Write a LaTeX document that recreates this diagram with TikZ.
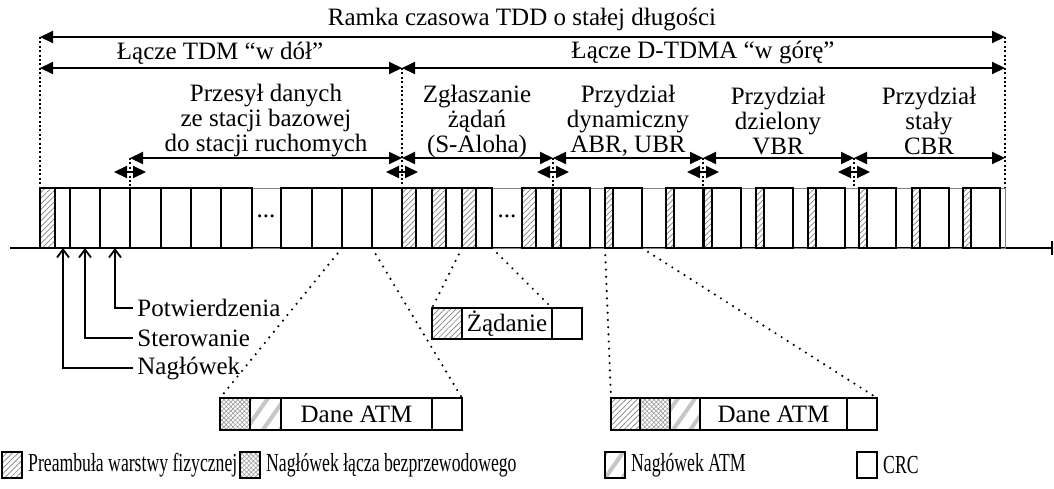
\documentclass[tikz,border=0pt]{standalone}
\usepackage{fontspec}
\setmainfont{Liberation Serif}
\newfontfamily\legfont[FakeStretch=0.68]{Liberation Serif}
\usepackage{tikz}
\usetikzlibrary{arrows.meta}
\usetikzlibrary{patterns.meta}
\usetikzlibrary{positioning}

\tikzset{
  lbl/.style={font=\fontsize{12.5}{12.5}\selectfont,inner sep=2pt,align=center},
  leg/.style={font=\legfont\fontsize{13}{13}\selectfont,inner sep=1.5pt},
  dim/.style={line width=1pt,{Triangle[length=6.5pt,width=6pt]}-{Triangle[length=6.5pt,width=6pt]}},
  guide/.style={line width=0.9pt,dash pattern=on 1pt off 1.2pt},
  zoomline/.style={line width=1.2pt,line cap=round,dash pattern=on 0pt off 3.6pt},
  slot/.style={draw,line width=1.1pt},
  idle/.style={draw=gray,line width=0.5pt},
  tick/.style={line width=0.9pt,-{Straight Barb[length=4pt,width=6pt]}},
  pre/.style={pattern={Lines[angle=45,distance=2pt,line width=0.35pt]},pattern color=gray},
  rhdr/.style={pattern={Hatch[angle=45,distance=1.6pt,line width=0.3pt]},pattern color=gray!80},
  ahdr/.style={pattern={Lines[angle=55,distance=7pt,line width=2pt]},pattern color=gray!45},
  cell/.style={draw,line width=1.1pt,inner sep=0pt,outer sep=0pt,font=\fontsize{12.5}{12.5}\selectfont},
  legbox/.style={draw,line width=0.8pt,minimum width=10pt,minimum height=13pt,inner sep=0pt},
}

\begin{document}
\begin{tikzpicture}[x=0.5pt,y=-0.5pt]
\useasboundingbox (0,0) rectangle (1054,488);

% frame and links
\node[lbl] (ramka) at (522,20) {Ramka czasowa TDD o stałej długości};
\draw[dim] (40,37) -- (1005,37);
\node[lbl] (down) at (220,53) {Łącze TDM “w dół”};
\node[lbl] (up) at (703,53) {Łącze D-TDMA “w górę”};
\draw[dim] (40,68) -- (402,68);
\draw[dim] (402,68) -- (1005,68);

% fields of the frame
\node[lbl] (przesyl) at (266,121) {Przesył danych\\ze stacji bazowej\\do stacji ruchomych};
\node[lbl] (zglasz) at (477,121) {Zgłaszanie\\żądań\\(S-Aloha)};
\node[lbl] (dynam) at (628,121) {Przydział\\dynamiczny\\ABR, UBR};
\node[lbl] (dziel) at (778,121) {Przydział\\dzielony\\VBR};
\node[lbl] (staly) at (929,121) {Przydział\\stały\\CBR};
\foreach \a/\b in {130/402,402/553,553/703,703/854,854/1005}
  \draw[dim] (\a,158) -- (\b,158);
\foreach \x in {130,402,553,703,854}
  \draw[dim] (\x-16,172) -- (\x+16,172);

% guides
\draw[guide] (40,37) -- (40,188);
\draw[guide] (1005,37) -- (1005,188);
\draw[guide] (402,68) -- (402,188);
\foreach \x in {130,553,703,854}
  \draw[guide] (\x,158) -- (\x,188);

% time axis and slots
\draw[line width=1pt,-{Bar[width=7pt]}] (10,248) -- (1053,248);
\draw[idle] (40,188) rectangle (1005,248);
\draw[slot,pre] (40,188) rectangle (55,248);
\foreach \a/\b in {55/70,70/100,100/130,130/161,161/191,191/221,221/252,281/312,312/342,342/372,372/402}
  \draw[slot] (\a,188) rectangle (\b,248);
\foreach \a in {402,432,462,522}{
  \draw[slot,pre] (\a,188) rectangle (\a+14,248);
  \draw[slot] (\a+14,188) rectangle (\a+30,248);
}
\foreach \a in {553,605,666,704,756,808,859,912,963}{
  \draw[slot,pre] (\a,188) rectangle (\a+8,248);
  \draw[slot] (\a+8,188) rectangle (\a+37,248);
}
\node[lbl] (dots1) at (266,216) {...};
\node[lbl] (dots2) at (507,216) {...};

% control slots
\node[lbl,anchor=west] (pot) at (133,308) {Potwierdzenia};
\node[lbl,anchor=west] (ster) at (133,338) {Sterowanie};
\node[lbl,anchor=west] (nagl) at (133,368) {Nagłówek};
\coordinate (cpot) at (115,248);
\coordinate (cster) at (85,248);
\coordinate (cnagl) at (63,248);
\draw[tick] (pot.west) -| (cpot);
\draw[tick] (ster.west) -| (cster);
\draw[tick] (nagl.west) -| (cnagl);

% request packet
\node[cell,pre,minimum width=15pt,minimum height=15.5pt,anchor=west] (z1) at (432,323.5) {};
\node[cell,minimum width=45pt,minimum height=15.5pt,right=0pt of z1] (z2) {Żądanie};
\node[cell,minimum width=15pt,minimum height=15.5pt,right=0pt of z2] (z3) {};
\coordinate (sa) at (462,248);
\coordinate (sb) at (492,248);
\draw[zoomline] (sa) -- (z1.north west);
\draw[zoomline] (sb) -- (z2.north east);

% downlink cell
\node[cell,rhdr,minimum width=15pt,minimum height=16pt,anchor=west] (ld1) at (220,414) {};
\node[cell,ahdr,minimum width=15.5pt,minimum height=16pt,right=0pt of ld1] (ld2) {};
\node[cell,minimum width=75.5pt,minimum height=16pt,right=0pt of ld2] (ld3) {Dane ATM};
\node[cell,minimum width=15pt,minimum height=16pt,right=0pt of ld3] (ld4) {};
\coordinate (da) at (342,248);
\coordinate (db) at (372,248);
\draw[zoomline] (da) -- (ld1.north west);
\draw[zoomline] (db) -- (ld4.north east);

% uplink cell
\node[cell,pre,minimum width=14.5pt,minimum height=16pt,anchor=west] (rd1) at (611,414) {};
\node[cell,rhdr,minimum width=15pt,minimum height=16pt,right=0pt of rd1] (rd2) {};
\node[cell,ahdr,minimum width=15pt,minimum height=16pt,right=0pt of rd2] (rd3) {};
\node[cell,minimum width=73.5pt,minimum height=16pt,right=0pt of rd3] (rd4) {Dane ATM};
\node[cell,minimum width=15pt,minimum height=16pt,right=0pt of rd4] (rd5) {};
\coordinate (ua) at (605,248);
\coordinate (ub) at (642,248);
\draw[zoomline] (ua) -- (rd1.north west);
\draw[zoomline] (ub) -- (rd5.north east);

% legend
\node[legbox,pre] (k1) at (12,465) {};
\node[leg,right=1pt of k1] (t1) {Preambuła warstwy fizycznej};
\node[legbox,rhdr] (k2) at (250,465) {};
\node[leg,right=1pt of k2] (t2) {Nagłówek łącza bezprzewodowego};
\node[legbox,ahdr] (k3) at (615,465) {};
\node[leg,right=1pt of k3] (t3) {Nagłówek ATM};
\node[legbox] (k4) at (867,465) {};
\node[leg,right=1pt of k4] (t4) {CRC};
\end{tikzpicture}
\end{document}
